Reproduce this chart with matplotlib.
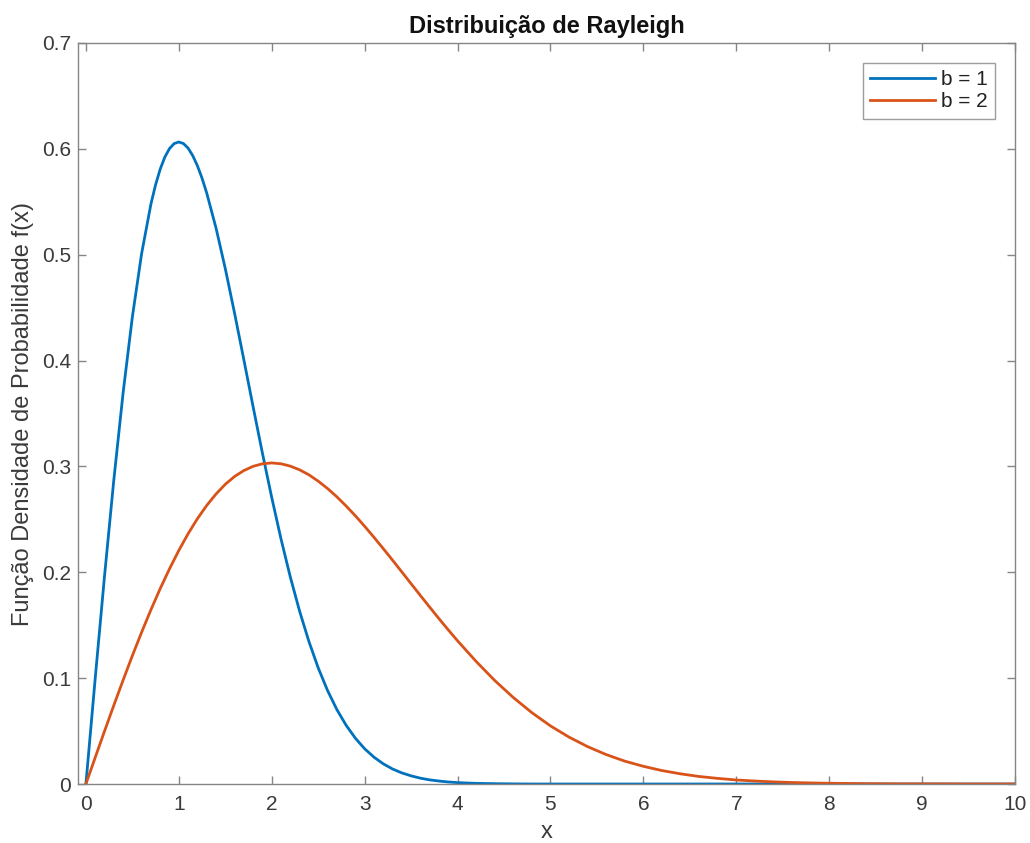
import matplotlib
matplotlib.use("Agg")
import matplotlib.pyplot as plt

plt.rcParams['font.family'] = ['Liberation Sans', 'DejaVu Sans']

# Values
x_b1 = [0.0, 0.1, 0.2, 0.3, 0.4, 0.5, 0.6, 0.7, 0.75, 0.8, 0.85, 0.9, 0.95,
        1.0, 1.05, 1.1, 1.15, 1.2, 1.25, 1.3, 1.4, 1.5, 1.6, 1.7, 1.8, 1.9,
        2.0, 2.1, 2.2, 2.3, 2.4, 2.5, 2.6, 2.7, 2.8, 2.9,
        3.0, 3.1, 3.2, 3.3, 3.4, 3.5, 3.6, 3.7, 3.8, 3.9,
        4.0, 4.2, 4.4, 4.6, 4.8, 5.0, 6.0, 7.0, 8.0, 9.0, 10.0]
pdf_b1 = [0.0, 0.0995, 0.1960, 0.2868, 0.3692, 0.4412, 0.5012, 0.5479, 0.5661, 0.5809, 0.5923, 0.6003, 0.6050,
          0.6065, 0.6050, 0.6007, 0.5936, 0.5841, 0.5723, 0.5584, 0.5254, 0.4870, 0.4448, 0.4008, 0.3562, 0.3125,
          0.2707, 0.2315, 0.1956, 0.1633, 0.1347, 0.1098, 0.0885, 0.0705, 0.0556, 0.0433,
          0.0333, 0.0254, 0.0191, 0.0142, 0.0105, 0.0077, 0.0055, 0.0039, 0.0028, 0.0019,
          0.0013, 0.0006, 0.0003, 0.0001, 0.0, 0.0, 0.0, 0.0, 0.0, 0.0, 0.0]

x_b2 = [0.0, 0.1, 0.2, 0.3, 0.4, 0.5, 0.6, 0.7, 0.8, 0.9,
        1.0, 1.1, 1.2, 1.3, 1.4, 1.5, 1.6, 1.7, 1.8, 1.9,
        2.0, 2.1, 2.2, 2.3, 2.4, 2.5, 2.6, 2.7, 2.8, 2.9,
        3.0, 3.1, 3.2, 3.3, 3.4, 3.5, 3.6, 3.7, 3.8, 3.9,
        4.0, 4.2, 4.4, 4.6, 4.8, 5.0, 5.2, 5.4, 5.6, 5.8,
        6.0, 6.2, 6.4, 6.6, 6.8, 7.0, 7.2, 7.4, 7.6, 7.8,
        8.0, 8.2, 8.4, 8.6, 8.8, 9.0, 9.5, 10.0]
pdf_b2 = [0.0, 0.0250, 0.0498, 0.0742, 0.0980, 0.1212, 0.1434, 0.1646, 0.1846, 0.2033,
          0.2206, 0.2364, 0.2506, 0.2631, 0.2739, 0.2831, 0.2905, 0.2961, 0.3001, 0.3025,
          0.3033, 0.3025, 0.3003, 0.2968, 0.2921, 0.2861, 0.2792, 0.2714, 0.2627, 0.2534,
          0.2435, 0.2331, 0.2224, 0.2115, 0.2004, 0.1892, 0.1781, 0.1671, 0.1562, 0.1456,
          0.1353, 0.1158, 0.0978, 0.0817, 0.0674, 0.0549, 0.0443, 0.0353, 0.0278, 0.0216,
          0.0167, 0.0127, 0.0096, 0.0071, 0.0053, 0.0038, 0.0028, 0.0020, 0.0014, 0.0010,
          0.0007, 0.0005, 0.0003, 0.0002, 0.0001, 0.0001, 0.0, 0.0]

labels = ['b = 1', 'b = 2']
colors = ['#0072BD', '#D95319']
x_ticks = list(range(0, 11))
y_ticks = [0, 0.1, 0.2, 0.3, 0.4, 0.5, 0.6, 0.7]
y_ticklabels = ['0', '0.1', '0.2', '0.3', '0.4', '0.5', '0.6', '0.7']

W, H = 1030, 843
fig = plt.figure(figsize=(W / 100, H / 100), dpi=100)
ax = fig.add_axes([78 / W, 1 - 784 / H, (1015 - 78) / W, (784 - 43) / H])

ax.plot(x_b1, pdf_b1, color=colors[0], lw=2.0, label=labels[0], solid_joinstyle='round')
ax.plot(x_b2, pdf_b2, color=colors[1], lw=2.0, label=labels[1], solid_joinstyle='round')

ax.set_xlim(-0.085, 10)
ax.set_ylim(0, 0.7)
ax.set_xticks(x_ticks)
ax.set_xticklabels([str(t) for t in x_ticks])
ax.set_yticks(y_ticks)
ax.set_yticklabels(y_ticklabels)

spine_col = '#858585'
for s in ax.spines.values():
    s.set_color(spine_col)
    s.set_linewidth(1.0)
ax.tick_params(direction='in', length=6, width=1.0, color=spine_col,
               labelcolor='#3a3a3a', labelsize=15, top=True, right=True)
ax.tick_params(axis='x', pad=8)
ax.tick_params(axis='y', pad=5)

ax.set_xlabel('x', fontsize=17, color='#3a3a3a', labelpad=5)
ax.set_ylabel('Função Densidade de Probabilidade f(x)', fontsize=17, color='#3a3a3a', labelpad=6)
ax.set_title('Distribuição de Rayleigh', fontsize=17, fontweight='bold', color='#111111', pad=7)

leg = ax.legend(loc='upper right', fontsize=15, frameon=True, fancybox=False,
                edgecolor=spine_col, handlelength=3.1, borderaxespad=0.95,
                borderpad=0.35, labelspacing=0.15, handletextpad=0.3)
leg.get_frame().set_linewidth(1.0)
for t in leg.get_texts():
    t.set_color('#222222')

fig.savefig('out.png', dpi=100)
